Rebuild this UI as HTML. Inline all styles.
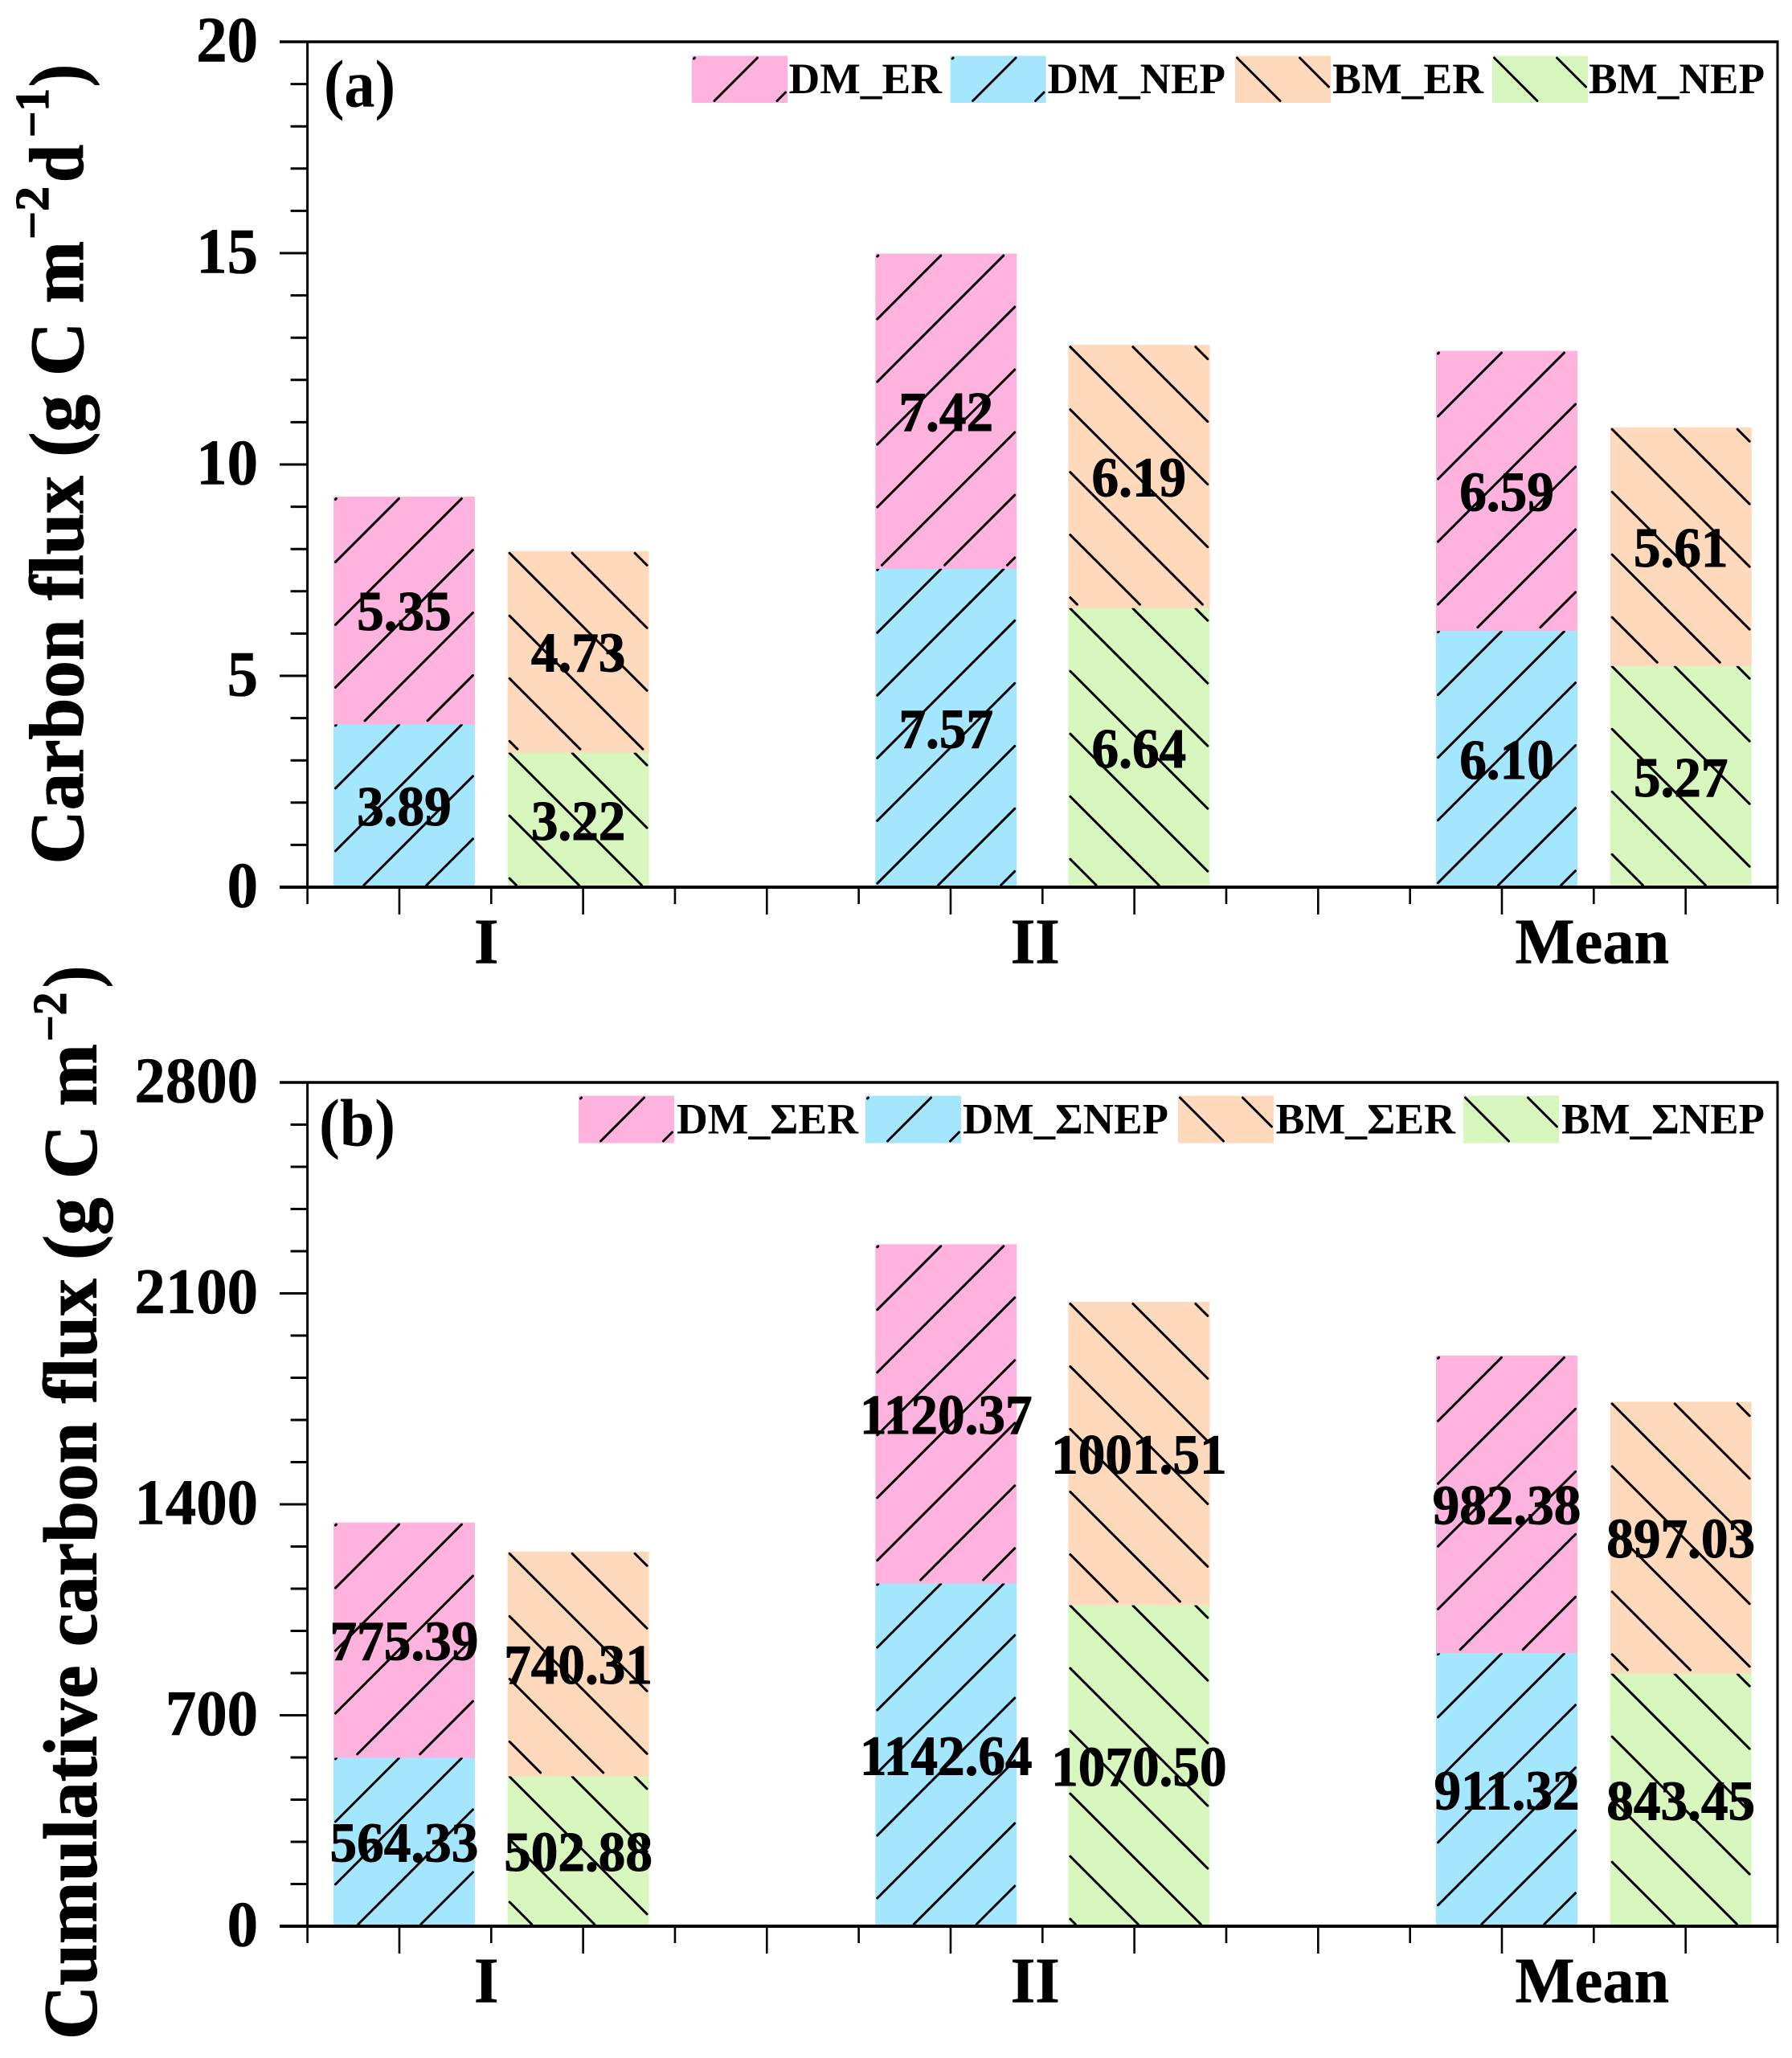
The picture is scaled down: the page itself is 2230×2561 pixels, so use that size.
<!DOCTYPE html>
<html lang="en">
<head>
<meta charset="utf-8">
<title>Carbon flux and cumulative carbon flux</title>
<style>
html,body{margin:0;padding:0;background:#fff;}
svg{display:block;}
text{font-family:"Liberation Serif","Times New Roman",serif;font-weight:bold;fill:#000;}
</style>
</head>
<body>
<svg id="chart" xmlns="http://www.w3.org/2000/svg" width="2230" height="2561" viewBox="0 0 2230 2561"></svg>
<script>
const categories = ['I', 'II', 'Mean'];
const categoryAxisX = [2, 8, 14];
const fluxDmNep = [3.89, 7.57, 6.10];
const fluxDmEr = [5.35, 7.42, 6.59];
const fluxBmNep = [3.22, 6.64, 5.27];
const fluxBmEr = [4.73, 6.19, 5.61];
const cumDmNep = [564.33, 1142.64, 911.32];
const cumDmEr = [775.39, 1120.37, 982.38];
const cumBmNep = [502.88, 1070.50, 843.45];
const cumBmEr = [740.31, 1001.51, 897.03];
const fluxTicks = [0, 5, 10, 15, 20];
const cumTicks = [0, 700, 1400, 2100, 2800];

const NS = 'http://www.w3.org/2000/svg';
const root = document.getElementById('chart');
const COLORS = { dmEr: '#feb3de', dmNep: '#a5e6ff', bmEr: '#ffd9bc', bmNep: '#d8f7be' };
const AXIS_L = 382.6, AXIS_R = 2212, X_UNIT = (AXIS_R - AXIS_L) / 16;
const BAR_W = 176;
const HATCH = 78;

function xScale(u) { return AXIS_L + u * X_UNIT; }
function pairGap(g) { return g === 1 ? 2.1 : 1.895; }
function labelNudge(g) { return g === 0 ? -6 : g === 1 ? -9 : -2; }

function make(tag, parent, attrs) {
  const el = document.createElementNS(NS, tag);
  for (const k in attrs) el.setAttribute(k, attrs[k]);
  parent.appendChild(el);
  return el;
}

function drawHatch(parent, x0, y0, w, h, dir) {
  const inset = 2.5;
  for (let k = -40; k <= 40; k++) {
    let u1, u2, v1, v2;
    if (dir === '/') {
      const s = 6 + HATCH * k;
      u1 = Math.max(inset, s - (h - inset));
      u2 = Math.min(w - inset, s - inset);
      if (u2 - u1 < 0.5) continue;
      v1 = s - u1; v2 = s - u2;
    } else {
      const s = HATCH * k;
      u1 = Math.max(inset, s + inset);
      u2 = Math.min(w - inset, s + h - inset);
      if (u2 - u1 < 0.5) continue;
      v1 = u1 - s; v2 = u2 - s;
    }
    const line = make('line', parent, {
      x1: x0 + u1, y1: y0 + v1, x2: x0 + u2, y2: y0 + v2,
      stroke: '#000', 'stroke-width': 3, 'stroke-linecap': 'round'
    });
    
    
  }
}

function putText(parent, str, x, y, size, anchor, sx, bold) {
  const t = make('text', parent, {
    transform: 'translate(' + x + ' ' + y + ') scale(' + sx + ' 1)',
    'font-size': size, 'text-anchor': anchor
  });
  if (bold) {
    t.setAttribute('stroke', '#000');
    t.setAttribute('stroke-width', bold);
  }
  t.textContent = str;
  return t;
}

function fitText(parent, str, x1, x2, y, size) {
  const t = make('text', parent, {
    x: x1, y: y, 'font-size': size,
    textLength: x2 - x1, lengthAdjust: 'spacingAndGlyphs'
  });
  t.textContent = str;
  return t;
}

/* Text running upward: from yStart (bottom) to yEnd (top) with baseline at x */
function vertText(parent, str, baseX, yStart, yEnd, size) {
  const t = make('text', parent, {
    transform: 'translate(' + baseX + ' ' + yStart + ') rotate(-90)',
    x: 0, y: 0, 'font-size': size,
    stroke: '#000', 'stroke-width': 1.2,
    textLength: yStart - yEnd, lengthAdjust: 'spacingAndGlyphs'
  });
  t.textContent = str;
  return t;
}

function drawPanel(cfg) {
  const g = make('g', root, {});
  
  
  const yScale = v => cfg.bottom - (v / cfg.max) * (cfg.bottom - cfg.top);

  /* bars */
  const series = [
    { values: cfg.dmNep, base: null, color: COLORS.dmNep, dir: '/', side: 0 },
    { values: cfg.dmEr, base: cfg.dmNep, color: COLORS.dmEr, dir: '/', side: 0 },
    { values: cfg.bmNep, base: null, color: COLORS.bmNep, dir: '\\', side: 1 },
    { values: cfg.bmEr, base: cfg.bmNep, color: COLORS.bmEr, dir: '\\', side: 1 }
  ];
  const labels = [];
  series.forEach(function (s) {
    s.values.forEach(function (v, i) {
      const start = s.base ? s.base[i] : 0;
      const center = xScale(categoryAxisX[i] + (s.side === 0 ? -1 : 1) * pairGap(i) / 2);
      const x = center - BAR_W / 2;
      const y = yScale(start + v);
      const h = yScale(start) - y;
      const overlap = s.base ? 2 : 0;
      const bar = make('rect', g, { x: x, y: y, width: BAR_W, height: h + overlap, fill: s.color });
      
      
      drawHatch(g, x, y, BAR_W, h, s.dir);
      labels.push({ text: v.toFixed(2), x: center, y: y + h / 2 + 25.5 });
    });
  });

  /* axes frame */
  const frameTop = make('line', g, { x1: cfg.tickLeft, y1: cfg.top, x2: AXIS_R + 1.5, y2: cfg.top, stroke: '#000', 'stroke-width': 3.5 });
  
  
  const frameRight = make('line', g, { x1: AXIS_R, y1: cfg.top, x2: AXIS_R, y2: cfg.bottom, stroke: '#000', 'stroke-width': 3 });
  
  
  const frameLeft = make('line', g, { x1: AXIS_L, y1: cfg.top, x2: AXIS_L, y2: cfg.bottom, stroke: '#000', 'stroke-width': 3 });
  
  
  const frameBottom = make('line', g, { x1: cfg.tickLeft, y1: cfg.bottom, x2: AXIS_R + 1.5, y2: cfg.bottom, stroke: '#000', 'stroke-width': 4 });
  
  

  /* y ticks */
  const majorStep = cfg.ticks[1] - cfg.ticks[0];
  for (let n = 0; n <= (cfg.ticks.length - 1) * 5; n++) {
    const v = n * majorStep / 5;
    const major = n % 5 === 0;
    const ty = yScale(v);
    if (!major) {
      const tick = make('line', g, { x1: AXIS_L - 21, y1: ty, x2: AXIS_L, y2: ty, stroke: '#000', 'stroke-width': 3 });
      
      
    } else if (v !== 0 && v !== cfg.max) {
      const tick = make('line', g, { x1: cfg.tickLeft, y1: ty, x2: AXIS_L, y2: ty, stroke: '#000', 'stroke-width': 3 });
      
      
    }
  }
  cfg.ticks.forEach(function (v) {
    const t = putText(g, String(v), 321, yScale(v) + 24.5, 80, 'end', 0.96, 0.6);
    
    
  });

  /* x ticks */
  for (let n = 0; n <= 16; n++) {
    const major = n % 2 === 1;
    const tx = xScale(n);
    const tick = make('line', g, { x1: tx, y1: cfg.bottom, x2: tx, y2: cfg.bottom + (major ? 34 : 21), stroke: '#000', 'stroke-width': 2.6 });
    
    
  }
  categories.forEach(function (c, i) {
    const t = putText(g, c, xScale(categoryAxisX[i]) + labelNudge(i), cfg.bottom + 94.5, 80, 'middle', 0.98, 0.6);
    
    
  });

  /* value labels */
  labels.forEach(function (l) {
    const t = putText(g, l.text, l.x, l.y, 70, 'middle', 0.96, 1);
    
    
  });

  /* panel tag */
  const tag = fitText(g, cfg.tag, cfg.tagX1, 492, cfg.tagY, 84);
  
  

  /* legend */
  cfg.legend.forEach(function (e) {
    const sw = make('rect', g, { x: e.sx, y: cfg.legY, width: 119, height: cfg.legH, fill: e.color });
    
    
    drawHatch(g, e.sx, cfg.legY, 119, cfg.legH, e.dir);
    const t = fitText(g, e.label, e.tx1, e.tx2, cfg.legBase, 54);
    
    
  });
}

drawPanel({
  name: 'panel-a', tag: '(a)', tagX1: 403, tagY: 132.6,
  top: 52, bottom: 1104, max: 20, tickLeft: 348, ticks: fluxTicks,
  dmNep: fluxDmNep, dmEr: fluxDmEr, bmNep: fluxBmNep, bmEr: fluxBmEr,
  legY: 69.5, legH: 58.5, legBase: 116,
  legend: [
    { label: 'DM_ER', sx: 861, tx1: 981.5, tx2: 1172, color: COLORS.dmEr, dir: '/' },
    { label: 'DM_NEP', sx: 1182.6, tx1: 1303.5, tx2: 1525, color: COLORS.dmNep, dir: '/' },
    { label: 'BM_ER', sx: 1537, tx1: 1658, tx2: 1846, color: COLORS.bmEr, dir: '\\' },
    { label: 'BM_NEP', sx: 1857, tx1: 1977, tx2: 2196, color: COLORS.bmNep, dir: '\\' }
  ]
});

drawPanel({
  name: 'panel-b', tag: '(b)', tagX1: 397, tagY: 1425.7,
  top: 1347, bottom: 2397, max: 2800, tickLeft: 348, ticks: cumTicks,
  dmNep: cumDmNep, dmEr: cumDmEr, bmNep: cumBmNep, bmEr: cumBmEr,
  legY: 1363.5, legH: 59, legBase: 1410.7,
  legend: [
    { label: 'DM_ΣER', sx: 720, tx1: 842, tx2: 1068, color: COLORS.dmEr, dir: '/' },
    { label: 'DM_ΣNEP', sx: 1077, tx1: 1198, tx2: 1454, color: COLORS.dmNep, dir: '/' },
    { label: 'BM_ΣER', sx: 1466, tx1: 1587.5, tx2: 1811, color: COLORS.bmEr, dir: '\\' },
    { label: 'BM_ΣNEP', sx: 1821, tx1: 1943, tx2: 2196, color: COLORS.bmNep, dir: '\\' }
  ]
});

/* y-axis titles */
const titleA = make('g', root, {});


vertText(titleA, 'Carbon flux (g C m', 103, 1075.5, 300, 95);
vertText(titleA, '−2', 60, 298, 232, 59);
vertText(titleA, 'd', 103, 227, 180, 95);
vertText(titleA, '−1', 60, 171, 110, 59);
vertText(titleA, ')', 103, 108, 80, 95);

const titleB = make('g', root, {});


vertText(titleB, 'Cumulative carbon flux (g C m', 119.5, 2538, 1299, 94);
vertText(titleB, '−2', 82, 1296, 1234.7, 59);
vertText(titleB, ')', 119.5, 1229, 1202, 94);
</script>
</body>
</html>
